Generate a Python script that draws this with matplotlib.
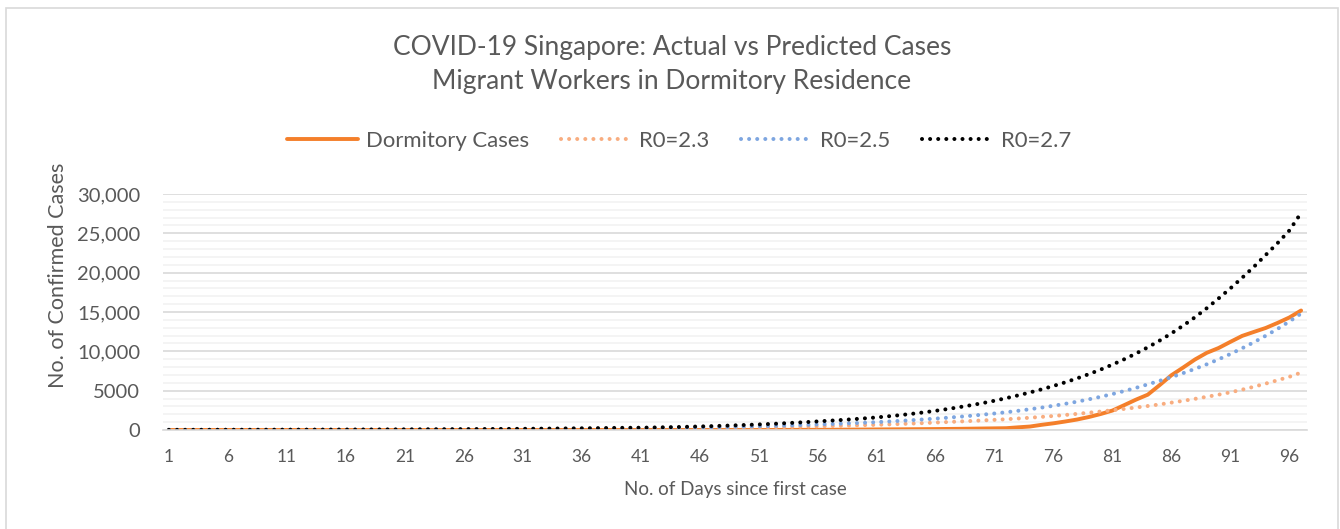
import matplotlib
matplotlib.use("Agg")
import matplotlib.pyplot as plt
from matplotlib.patches import Rectangle
import numpy as np

plt.rcParams['font.family'] = ['Lato', 'DejaVu Sans']

days = list(range(1, 98))

dormitory = [0] * 45 + [
    0, 0, 0, 0, 0, 0, 5, 10, 15, 20, 25, 30, 40, 50, 60,
    70, 80, 90, 100, 110, 120, 135, 150, 170, 190, 210, 230,
    340, 440, 660, 850, 1080, 1330, 1650, 2030, 2470, 3160, 3860, 4490,
    5700, 6960, 7940, 8960, 9810, 10420, 11200, 11960, 12470, 12970,
    13610, 14300, 15190]

r0_23 = [
    12, 12, 13, 13, 14, 15, 15, 16, 17, 18,
    19, 20, 21, 22, 23, 24, 25, 27, 28, 30,
    31, 33, 35, 37, 39, 41, 43, 45, 48, 50,
    53, 56, 59, 62, 65, 69, 73, 77, 81, 85,
    140, 150, 165, 180, 195, 210, 230, 250, 270, 290,
    315, 340, 365, 395, 425, 460, 495, 530, 570, 615,
    660, 710, 765, 820, 880, 945, 1010, 1080, 1150, 1220,
    1290, 1370, 1460, 1560, 1670, 1780, 1910, 2050, 2200, 2350,
    2510, 2680, 2860, 3050, 3250, 3480, 3710, 3960, 4220, 4490,
    4790, 5130, 5500, 5900, 6320, 6760, 7300]

r0_25 = [
    15, 16, 17, 18, 19, 20, 21, 22, 24, 25,
    27, 28, 30, 32, 34, 36, 38, 40, 43, 45,
    48, 51, 54, 57, 61, 64, 68, 72, 77, 81,
    86, 91, 97, 103, 109, 116, 123, 130, 138, 146,
    200, 220, 240, 260, 285, 310, 340, 370, 400, 435,
    470, 510, 555, 600, 650, 700, 750, 805, 865, 930,
    1000, 1080, 1160, 1250, 1350, 1450, 1560, 1680, 1810, 1950,
    2100, 2260, 2440, 2640, 2850, 3080, 3330, 3600, 3900, 4220,
    4570, 4950, 5360, 5800, 6250, 6720, 7230, 7770, 8350, 8980,
    9660, 10390, 11160, 11980, 12850, 13790, 14800]

r0_27 = [
    20, 21, 22, 24, 25, 27, 29, 31, 33, 35,
    38, 40, 43, 46, 50, 53, 57, 61, 66, 70,
    75, 81, 87, 93, 100, 107, 115, 123, 132, 142,
    152, 163, 175, 188, 201, 216, 232, 249, 267, 280,
    290, 315, 345, 375, 410, 450, 490, 540, 590, 645,
    705, 770, 840, 920, 1000, 1090, 1180, 1270, 1370, 1480,
    1600, 1740, 1890, 2060, 2240, 2440, 2660, 2900, 3150, 3420,
    3720, 4050, 4400, 4770, 5170, 5600, 6060, 6560, 7100, 7680,
    8310, 8990, 9720, 10510, 11360, 12280, 13270, 14330, 15480, 16720,
    18000, 19350, 20750, 22250, 23750, 25350, 27600]

grey = '#595959'

fig = plt.figure(figsize=(13.4, 5.29), dpi=100)
ax = fig.add_axes([163 / 1340, 1 - 430 / 529, (1307 - 163) / 1340, (430 - 194) / 529])

dots = (0, (0.01, 2.0))
ax.plot(days, r0_23, color='#F8AD80', lw=2.9, linestyle=dots, dash_capstyle='round', label='R0=2.3')
ax.plot(days, r0_25, color='#7EA6E0', lw=2.9, linestyle=dots, dash_capstyle='round', label='R0=2.5')
ax.plot(days, r0_27, color='black', lw=2.9, linestyle=dots, dash_capstyle='round', label='R0=2.7')
ax.plot(days, dormitory, color='#F47F2A', lw=2.8, solid_capstyle='round', label='Dormitory Cases', zorder=1.5)

ax.set_xlim(0.5, 97.5)
ax.set_ylim(0, 30000)
ax.set_xticks(days[::5])
ax.set_xticklabels([str(d) for d in days[::5]])
ax.set_yticks(range(0, 30001, 5000))
ax.set_yticklabels(['0', '5000', '10,000', '15,000', '20,000', '25,000', '30,000'])
ax.set_yticks(range(0, 30001, 1000), minor=True)
ax.grid(True, which='major', axis='y', color='#D9D9D9', lw=1.2)
ax.grid(True, which='minor', axis='y', color='#F2F2F2', lw=1.2)
ax.set_axisbelow(True)
for s in ['top', 'right', 'left']:
    ax.spines[s].set_visible(False)
ax.spines['bottom'].set_color('#D9D9D9')
ax.spines['bottom'].set_linewidth(1.2)
ax.tick_params(axis='both', which='both', length=0, colors=grey)
ax.tick_params(axis='y', labelsize=14.5, pad=16.5)
ax.tick_params(axis='x', labelsize=12.5, pad=14)

ax.set_ylabel('No. of Confirmed Cases', color=grey, fontsize=15.5)
ax.yaxis.set_label_coords(-0.083, 0.657)
ax.set_xlabel('No. of Days since first case', color=grey, fontsize=13.5, labelpad=11)

fig.text(672 / 1340, 1 - 47 / 529, 'COVID-19 Singapore: Actual vs Predicted Cases',
         ha='center', va='center', color=grey, fontsize=19)
fig.text(672 / 1340, 1 - 82 / 529, 'Migrant Workers in Dormitory Residence',
         ha='center', va='center', color=grey, fontsize=19)

h, l = ax.get_legend_handles_labels()
order = [3, 0, 1, 2]
leg = fig.legend([h[i] for i in order], [l[i] for i in order], loc='center',
                 bbox_to_anchor=(679 / 1340, 1 - 141 / 529), ncol=4, frameon=False,
                 fontsize=15.9, handlelength=3.2, columnspacing=1.45, handletextpad=0.35)
for t in leg.get_texts():
    t.set_color(grey)

fig.patches.append(Rectangle((6 / 1340, -0.02), 1332 / 1340, 1 - 8 / 529 + 0.02,
                             transform=fig.transFigure, fill=False, edgecolor='#D9D9D9', lw=1.2))

fig.savefig('out.png', dpi=100)
